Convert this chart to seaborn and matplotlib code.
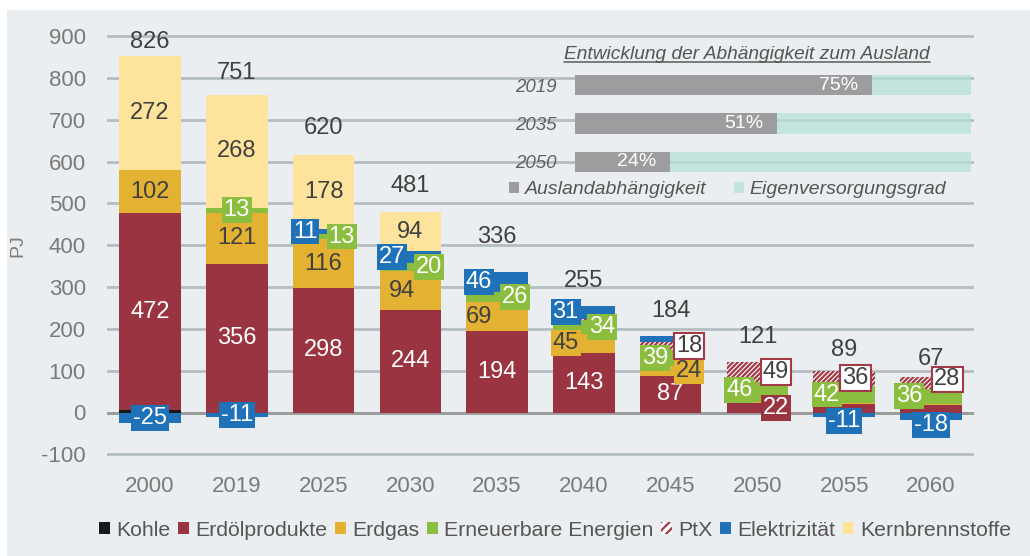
import matplotlib
matplotlib.use("Agg")
import matplotlib.pyplot as plt
import seaborn as sns
import numpy as np
from matplotlib.patches import Rectangle, Patch
from matplotlib.lines import Line2D

# ---------------- data ----------------
years = ["2000", "2019", "2025", "2030", "2035", "2040", "2045", "2050", "2055", "2060"]
kohle = [5, 0, 0, 0, 0, 0, 0, 0, 0, 0]
erdoel = [472, 356, 298, 244, 194, 143, 87, 22, 20, 19]
erdgas = [102, 121, 116, 94, 69, 45, 24, 4, 2, 2]
erneuerbar = [0, 13, 13, 20, 26, 34, 39, 46, 42, 36]
ptx = [0, 0, 0, 0, 0, 2, 18, 49, 36, 28]
elektrizitaet = [-25, -11, 11, 27, 46, 31, 16, 0, -11, -18]
kern = [272, 268, 178, 94, 0, 0, 0, 0, 0, 0]
totals = [826, 751, 620, 481, 336, 255, 184, 121, 89, 67]

series_names = ["Kohle", "Erdölprodukte", "Erdgas", "Erneuerbare Energien",
                "PtX", "Elektrizität", "Kernbrennstoffe"]
series_values = [kohle, erdoel, erdgas, erneuerbar, ptx, elektrizitaet, kern]
y_ticks = [-100, 0, 100, 200, 300, 400, 500, 600, 700, 800, 900]

inset_title = "Entwicklung der Abhängigkeit zum Ausland"
inset_years = ["2019", "2035", "2050"]
auslandabhaengigkeit = [75, 51, 24]
eigenversorgung = [25, 49, 76]
inset_labels = ["Auslandabhängigkeit", "Eigenversorgungsgrad"]

# ---------------- styles ----------------
W, H = 1030, 556
BG = "#ebeef0"
GRID = "#b4bec2"
TICK = "#7a7a7a"
DARK = "#404040"
colors = ["#17191c", "#9b3441", "#e4b232", "#8bbd3f", "#ffffff", "#1f71b8", "#fde39b"]
PTX_RED = "#a33a48"
GRAY_BAR = "#9d9d9f"
TEAL = "#b3e1d8"
HATCH = "///////"

# label placement: (series index, year index, dx, dy, boxed)
label_spec = (
    [(1, i, 0, 0, False) for i in range(7)] + [(1, 7, 0.21, 0, True)] +
    [(2, 0, 0, 0, False), (2, 1, 0, 0, False), (2, 2, 0, 0, False), (2, 3, -0.1, 0, False),
     (2, 4, -0.21, 0, False), (2, 5, -0.21, 0, True), (2, 6, 0.21, 0, True)] +
    [(3, 1, 0, 0, True), (3, 2, 0.21, 0, True), (3, 3, 0.21, 0, True), (3, 4, 0.21, 0, True),
     (3, 5, 0.21, 0, True), (3, 6, -0.18, 0, True), (3, 7, -0.21, 5, True),
     (3, 8, -0.2, 0, True), (3, 9, -0.25, 0, True)] +
    [(4, 6, 0.21, 0, True), (4, 7, 0.21, 0, True), (4, 8, 0.13, 0, True), (4, 9, 0.19, 8, True)] +
    [(5, 0, 0, 0, True), (5, 1, 0, 0, True), (5, 2, -0.21, 0, True), (5, 3, -0.21, 0, True),
     (5, 4, -0.21, 0, True), (5, 5, -0.21, 0, True), (5, 8, 0, -15, True), (5, 9, 0, -21, True)] +
    [(6, i, 0, 0, False) for i in range(4)]
)
text_colors = {1: "white", 2: DARK, 3: "white", 4: DARK, 5: "white", 6: DARK}

sns.set_theme(style="white")
plt.rcParams["font.family"] = ["Liberation Sans", "DejaVu Sans"]
plt.rcParams["hatch.linewidth"] = 1.6

fig = plt.figure(figsize=(W / 100, H / 100), dpi=100)
fig.patch.set_facecolor("white")
fig.patches.append(Rectangle((7 / W, 0), 1 - 7 / W, 1 - 10 / H, transform=fig.transFigure,
                             facecolor=BG, edgecolor="none", zorder=-10))

scale = (412.5 - 36) / 900.0
ymin, ymax = -105, 905
top_px = 412.5 - ymax * scale
bot_px = 412.5 - ymin * scale
ax = fig.add_axes([106.6 / W, 1 - bot_px / H, (974.4 - 106.6) / W, (bot_px - top_px) / H])
ax.set_facecolor("none")

pos_cum = np.zeros(len(years))
neg_cum = np.zeros(len(years))
bottoms = []
for k, vals in enumerate(series_values):
    v = np.array(vals, dtype=float)
    bottom = np.where(v >= 0, pos_cum, neg_cum)
    bottoms.append(bottom.copy())
    sns.barplot(x=years, y=v, bottom=bottom, color=colors[k], width=0.71,
                errorbar=None, ax=ax, saturation=1)
    cont = ax.containers[-1]
    for p in cont.patches:
        if k == 4:
            p.set_facecolor("white")
            p.set_edgecolor(PTX_RED)
            p.set_hatch(HATCH)
            p.set_linewidth(0)
        else:
            p.set_facecolor(colors[k])
            p.set_edgecolor("none")
            p.set_linewidth(0)
    pos_cum += np.where(v > 0, v, 0)
    neg_cum += np.where(v < 0, v, 0)

ax.set_xlim(-0.5, 9.5)
ax.set_ylim(ymin, ymax)
ax.set_yticks(y_ticks)
ax.set_yticklabels([str(t) for t in y_ticks])
ax.grid(axis="y", color=GRID, linewidth=2)
ax.grid(axis="x", visible=False)
ax.set_axisbelow(True)
ax.axhline(0, color="#9a9a9a", linewidth=2, zorder=0.8)
for s in ax.spines.values():
    s.set_visible(False)
ax.tick_params(axis="both", length=0, labelsize=16, labelcolor=TICK)
ax.tick_params(axis="y", pad=15)
ax.tick_params(axis="x", pad=14)
ax.set_xlabel("")
ax.set_ylabel("PJ", fontsize=14, color=TICK)
ax.yaxis.set_label_coords(-0.092, 0.5)

# segment labels
box_colors = {1: colors[1], 2: colors[2], 3: colors[3], 4: "white", 5: colors[5]}
for (k, i, dx, dy, boxed) in label_spec:
    val = series_values[k][i]
    yc = bottoms[k][i] + val / 2.0 + dy
    bbox = None
    if boxed:
        if k == 4:
            bbox = dict(boxstyle="square,pad=0.08", facecolor="white", edgecolor=PTX_RED, linewidth=1.5)
        else:
            bbox = dict(boxstyle="square,pad=0.08", facecolor=box_colors[k], edgecolor="none")
    ax.text(i + dx, yc, str(val), ha="center", va="center", fontsize=17,
            color=text_colors[k], bbox=bbox, zorder=5)

# totals
for i, t in enumerate(totals):
    off = 25 if years[i] == "2035" else 18
    ax.annotate(str(t), (i, t), xytext=(0, off), textcoords="offset points",
                ha="center", va="center", fontsize=17, color=DARK, zorder=6)

# main legend
handles = []
for k, name in enumerate(series_names):
    if k == 4:
        handles.append(Patch(facecolor="white", edgecolor=PTX_RED, hatch="////", linewidth=0))
    else:
        handles.append(Patch(facecolor=colors[k], edgecolor="none"))
fig.legend(handles, series_names, loc="center left", bbox_to_anchor=(99 / W, 1 - 530 / H),
           ncol=7, frameon=False, fontsize=15.3, handlelength=0.52, handleheight=0.52,
           handletextpad=0.28, columnspacing=0.37, borderpad=0, borderaxespad=0,
           labelcolor="#555555")

# ---------------- inset ----------------
ax2 = fig.add_axes([575 / W, 1 - 181.25 / H, 396 / W, 115.5 / H])
ax2.set_zorder(ax.get_zorder() + 1)
ax2.set_facecolor("none")
full = [a + b for a, b in zip(auslandabhaengigkeit, eigenversorgung)]
sns.barplot(x=full, y=inset_years, orient="h", color=TEAL, width=0.52, errorbar=None,
            ax=ax2, saturation=1)
for p in ax2.containers[-1].patches:
    p.set_facecolor(TEAL)
    p.set_alpha(0.7)
    p.set_linewidth(0)
sns.barplot(x=auslandabhaengigkeit, y=inset_years, orient="h", color=GRAY_BAR, width=0.52,
            errorbar=None, ax=ax2, saturation=1)
for p in ax2.containers[-1].patches:
    p.set_facecolor(GRAY_BAR)
    p.set_linewidth(0)
ax2.set_xlim(0, 100)
ax2.set_xticks([])
ax2.set_xlabel("")
ax2.set_ylabel("")
for s in ax2.spines.values():
    s.set_visible(False)
ax2.tick_params(axis="y", length=0, pad=13, labelsize=13.5, labelcolor="#606060")
for lab in ax2.get_yticklabels():
    lab.set_fontstyle("italic")
for i, v in enumerate(auslandabhaengigkeit):
    ax2.annotate(f"{v}%", (v, i), xytext=(-10, 0), textcoords="offset points",
                 ha="right", va="center", fontsize=14, color="white")

title = fig.text(747 / W, 1 - 54 / H, inset_title, ha="center", va="center",
                 fontsize=13.8, style="italic", color="#555555")

fig.legend([Patch(facecolor=GRAY_BAR, edgecolor="none"), Patch(facecolor="#c4e5df", edgecolor="none")],
           inset_labels, loc="center left", bbox_to_anchor=(509 / W, 1 - 190 / H), ncol=2,
           frameon=False, prop={"size": 14, "style": "italic"}, handlelength=0.52,
           handleheight=0.52, handletextpad=0.3, columnspacing=1.4, borderpad=0,
           borderaxespad=0, labelcolor="#555555")

# underline for inset title
fig.canvas.draw()
bb = title.get_window_extent(renderer=fig.canvas.get_renderer())
fig.add_artist(Line2D([bb.x0 / W, bb.x1 / W], [(1 - 62 / H), (1 - 62 / H)],
                      transform=fig.transFigure, color="#666666", linewidth=1.2))

fig.savefig("out.png", dpi=100, facecolor=fig.get_facecolor())
